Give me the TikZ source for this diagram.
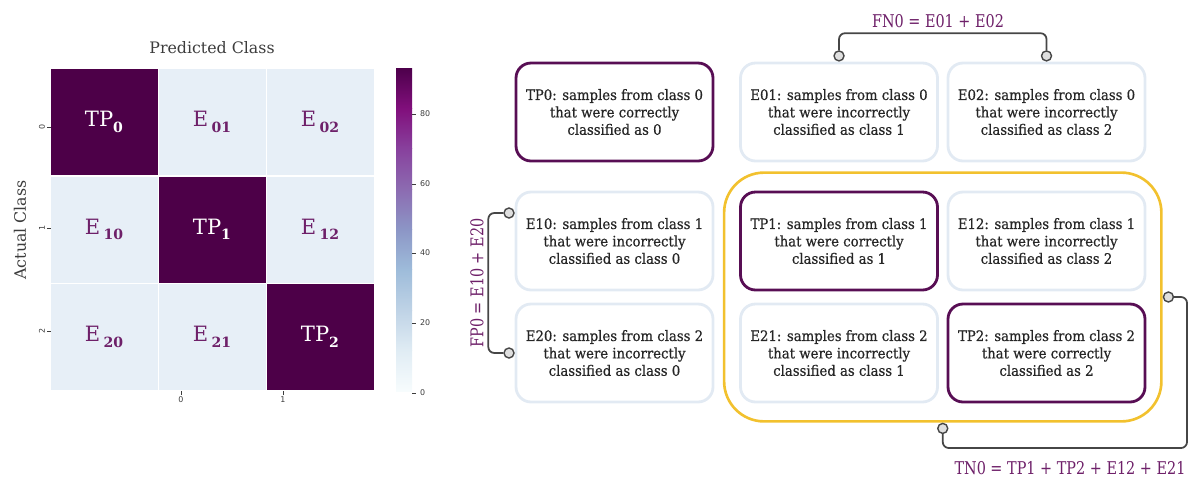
\documentclass[tikz,border=0pt]{standalone}
\usepackage{fontspec}
\setmainfont{DejaVu Serif}
\setsansfont{DejaVu Sans}
\newfontfamily\cardfont[FakeStretch=0.92,FakeBold=0.6]{DejaVu Serif}
\newfontfamily\sumfont[FakeStretch=0.82]{DejaVu Serif}
\usepackage{tikz}
\usetikzlibrary{positioning,fit,calc}
\usepackage{xcolor}
\definecolor{cellpurple}{RGB}{77,0,72}
\definecolor{celllight}{RGB}{231,239,247}
\definecolor{labelpurple}{RGB}{110,32,105}
\definecolor{boxpurple}{RGB}{88,14,84}
\definecolor{boxgray}{RGB}{226,234,243}
\definecolor{zoneyellow}{RGB}{242,193,46}
\definecolor{conngray}{RGB}{70,70,70}
\definecolor{axisgray}{RGB}{60,60,60}
% BuPu colour map for the colour bar
\definecolor{bupuA}{RGB}{247,252,253}
\definecolor{bupuB}{RGB}{224,236,244}
\definecolor{bupuC}{RGB}{191,211,230}
\definecolor{bupuD}{RGB}{158,188,218}
\definecolor{bupuE}{RGB}{140,150,198}
\definecolor{bupuF}{RGB}{140,107,177}
\definecolor{bupuG}{RGB}{136,65,157}
\definecolor{bupuH}{RGB}{129,15,124}
\definecolor{bupuI}{RGB}{77,0,75}
\newcommand\cellsub[1]{\raisebox{-0.5ex}{\fontsize{8}{8}\selectfont\bfseries #1}}

\begin{document}
\begin{tikzpicture}[
  x=0.02cm, y=-0.02cm,
  cell/.style={rectangle,draw=white,line width=0.3pt,
               minimum width=2.16cm,minimum height=2.15cm,inner sep=0pt,
               font=\fontsize{12}{14}\selectfont},
  tpcell/.style={cell,fill=cellpurple,text=white},
  ecell/.style={cell,fill=celllight,text=labelpurple},
  card/.style={rectangle,rounded corners=0.3cm,
               minimum width=3.94cm,minimum height=1.96cm,align=center,
               line width=1.6pt,text=black!85,
               font=\cardfont\fontsize{8.2}{9.9}\selectfont},
  tpcard/.style={card,draw=boxpurple},
  ecard/.style={card,draw=boxgray},
  zone/.style={rectangle,rounded corners=0.8cm,draw=zoneyellow,
               line width=1.5pt,inner xsep=0.3cm,inner ysep=0.36cm},
  dot/.style={circle,draw=conngray,fill=gray!25,line width=0.8pt,
              minimum size=0.2cm,inner sep=0pt},
  conn/.style={draw=conngray,line width=1pt,rounded corners=0.12cm},
  sumlbl/.style={text=labelpurple,font=\sumfont\fontsize{10}{12}\selectfont},
  axlbl/.style={text=axisgray,font=\fontsize{9}{11}\selectfont},
  tick/.style={text=axisgray,inner sep=1pt,
               font=\sffamily\fontsize{4.5}{5}\selectfont},
]
\useasboundingbox (0,0) rectangle (1189,477);

%% Heat map of the confusion matrix
\node[tpcell] (c00) at (104,122)   {TP\cellsub{0}};
\node[ecell]  (c01) at (212,122)   {E\,\cellsub{01}};
\node[ecell]  (c02) at (320,122)   {E\,\cellsub{02}};
\node[ecell]  (c10) at (104,229.5) {E\,\cellsub{10}};
\node[tpcell] (c11) at (212,229.5) {TP\cellsub{1}};
\node[ecell]  (c12) at (320,229.5) {E\,\cellsub{12}};
\node[ecell]  (c20) at (104,337)   {E\,\cellsub{20}};
\node[ecell]  (c21) at (212,337)   {E\,\cellsub{21}};
\node[tpcell] (c22) at (320,337)   {TP\cellsub{2}};

% Axis titles
\node[axlbl] (predlbl) at (212,48) {Predicted Class};
\node[axlbl,rotate=90] (actlbl) at (20,230) {Actual Class};

% Tick labels
\node[tick,rotate=90] (yt0) at (42,127) {0};
\node[tick,rotate=90] (yt1) at (42,228) {1};
\node[tick,rotate=90] (yt2) at (42,331) {2};
\draw[axisgray,line width=0.3pt] (yt0.south) -- ++(4,0);
\draw[axisgray,line width=0.3pt] (yt1.south) -- ++(4,0);
\draw[axisgray,line width=0.3pt] (yt2.south) -- ++(4,0);
\node[tick] (xt0) at (181,400) {0};
\node[tick] (xt1) at (283,400) {1};
\draw[axisgray,line width=0.3pt] (xt0.north) -- ++(0,-4);
\draw[axisgray,line width=0.3pt] (xt1.north) -- ++(0,-4);

% Colour bar
\foreach \lo/\hi/\cb/\ct in {391/350.6/bupuA/bupuB, 350.6/310.3/bupuB/bupuC,
    310.3/269.9/bupuC/bupuD, 269.9/229.5/bupuD/bupuE, 229.5/189.1/bupuE/bupuF,
    189.1/148.8/bupuF/bupuG, 148.8/108.4/bupuG/bupuH, 108.4/68/bupuH/bupuI}
  \shade[bottom color=\cb,top color=\ct] (396,\lo) rectangle (412,\hi);
\foreach \yy/\val in {393/0, 323/20, 253/40, 184/60, 114/80} {
  \draw[axisgray,line width=0.3pt] (412,\yy) -- (416,\yy);
  \node[tick,anchor=west] at (418,\yy) {\val};
}

%% Cards for the nine cells
\node[tpcard] (tp0) at (614.5,112) {TP0: samples from class 0\\that were correctly\\classified as 0};
\node[ecard]  (e01) at (839,112)   {E01: samples from class 0\\that were incorrectly\\classified as class 1};
\node[ecard]  (e02) at (1046.5,112) {E02: samples from class 0\\that were incorrectly\\classified as class 2};
\node[ecard]  (e10) at (614.5,241) {E10: samples from class 1\\that were incorrectly\\classified as class 0};
\node[tpcard] (tp1) at (839,241)   {TP1: samples from class 1\\that were correctly\\classified as 1};
\node[ecard]  (e12) at (1046.5,241) {E12: samples from class 1\\that were incorrectly\\classified as class 2};
\node[ecard]  (e20) at (614.5,353) {E20: samples from class 2\\that were incorrectly\\classified as class 0};
\node[ecard]  (e21) at (839,353)   {E21: samples from class 2\\that were incorrectly\\classified as class 1};
\node[tpcard] (tp2) at (1046.5,353) {TP2: samples from class 2\\that were correctly\\classified as 2};

% True negatives of class 0
\node[zone,fit=(tp1)(tp2)] (tnzone) {};

% Connector ends
\node[dot,above=0pt of e01] (fnleft)  {};
\node[dot,above=0pt of e02] (fnright) {};
\node[dot] (fptop) at (509,213) {};
\node[dot] (fpbot) at (509,353) {};
\node[dot,right=0pt of tnzone] (tnright)  {};
\node[dot,below=0pt of tnzone] (tnbottom) {};
\coordinate (tncorner) at (1187,448);

% Brackets and sums
\draw[conn] (fnleft.north) -- ++(0,-17) -| (fnright.north);
\node[sumlbl] (fnlbl) at (938,21) {FN0 = E01 + E02};

\draw[conn] (fptop.west) -- ++(-15,0) |- (fpbot.west);
\node[sumlbl,rotate=90] (fplbl) at (477,283) {FP0 = E10 + E20};

\draw[conn] (tnright.east) -| (tncorner) -| (tnbottom.south);
\node[sumlbl] (tnlbl) at (1070,468) {TN0 = TP1 + TP2 + E12 + E21};

\end{tikzpicture}
\end{document}
